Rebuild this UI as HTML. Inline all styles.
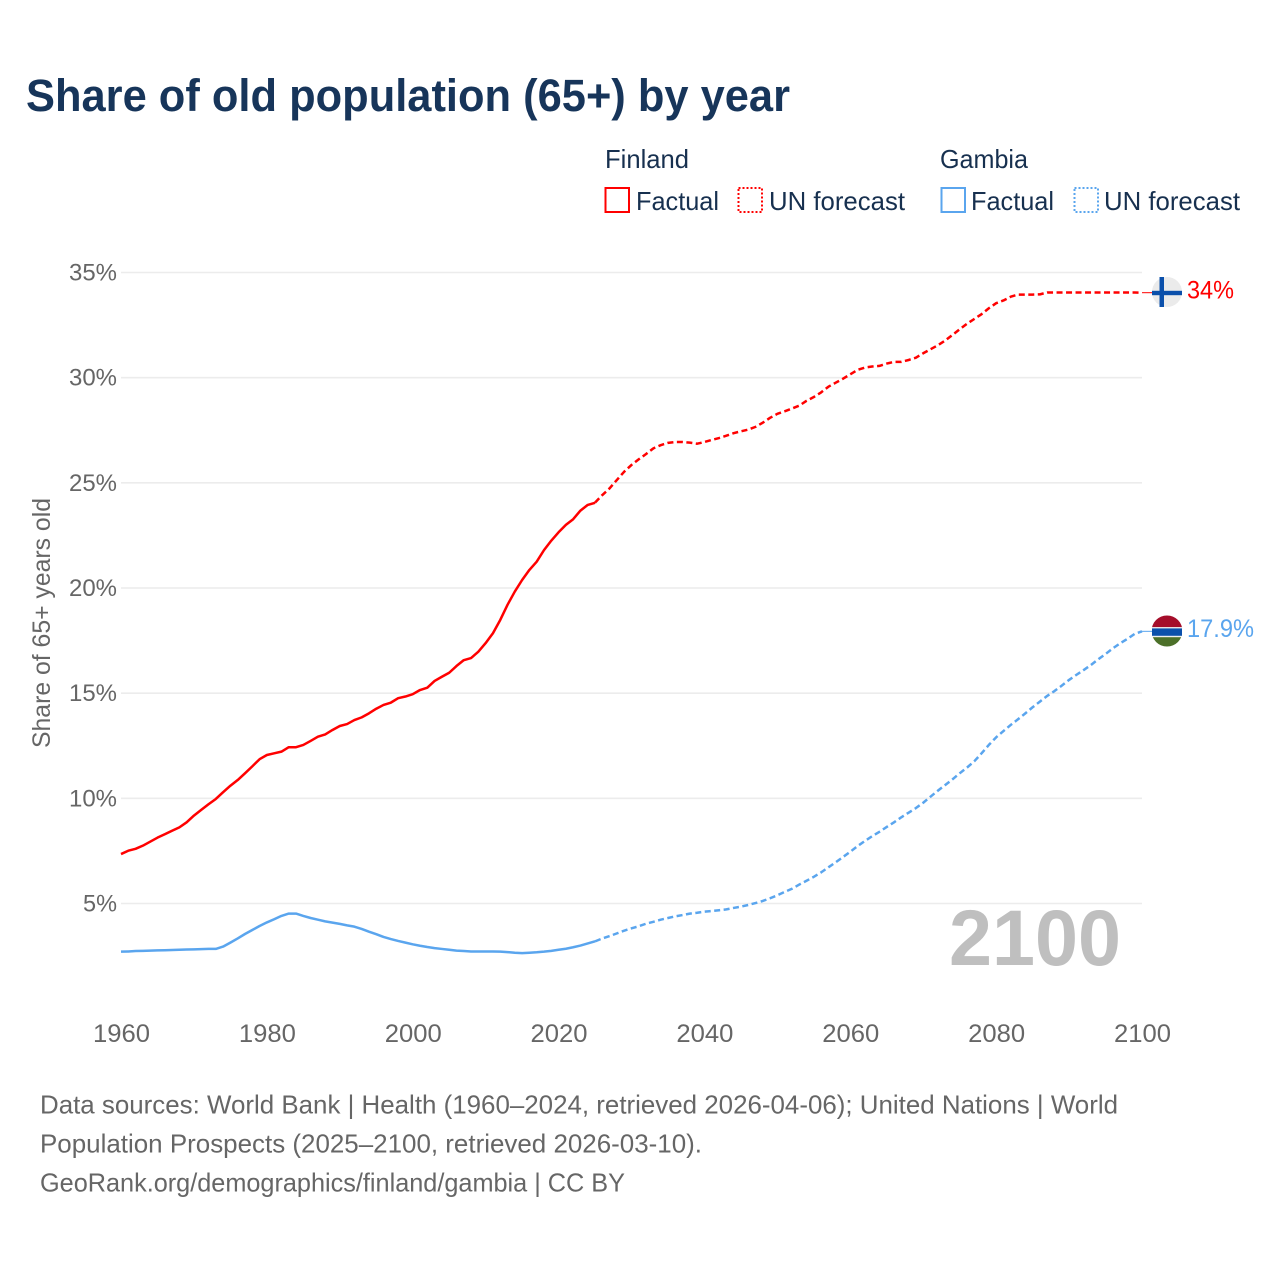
<!DOCTYPE html>
<html lang="en">
<head>
<meta charset="utf-8">
<title>Share of old population (65+) by year</title>
<style>
html,body{margin:0;padding:0;background:#fff;width:1280px;height:1280px;overflow:hidden}
svg{display:block}
text{font-family:"Liberation Sans",sans-serif}
</style>
</head>
<body>
<svg id="chart" width="1280" height="1280" viewBox="0 0 1280 1280" xmlns="http://www.w3.org/2000/svg">
  <rect width="1280" height="1280" fill="#fff"/>
  <text x="26" y="111" font-size="45" font-weight="700" fill="#17355a" textLength="764" lengthAdjust="spacingAndGlyphs">Share of old population (65+) by year</text>

  <g font-size="26" fill="#17304f">
    <text x="605" y="168" textLength="84" lengthAdjust="spacingAndGlyphs">Finland</text>
    <text x="940" y="168" textLength="88" lengthAdjust="spacingAndGlyphs">Gambia</text>
    <rect x="605.5" y="188" width="23.5" height="24" fill="none" stroke="#ff0000" stroke-width="2"/>
    <text x="636" y="210" textLength="83" lengthAdjust="spacingAndGlyphs">Factual</text>
    <rect x="738.5" y="188" width="23.5" height="24" fill="none" stroke="#ff0000" stroke-width="2" stroke-dasharray="2 2"/>
    <text x="769" y="210" textLength="136" lengthAdjust="spacingAndGlyphs">UN forecast</text>
    <rect x="941.5" y="188" width="23.5" height="24" fill="none" stroke="#5aa5ee" stroke-width="2"/>
    <text x="971" y="210" textLength="83" lengthAdjust="spacingAndGlyphs">Factual</text>
    <rect x="1074.5" y="188" width="23.5" height="24" fill="none" stroke="#5aa5ee" stroke-width="2" stroke-dasharray="2 2"/>
    <text x="1104" y="210" textLength="136" lengthAdjust="spacingAndGlyphs">UN forecast</text>
  </g>

  <text transform="translate(50,623) rotate(-90)" text-anchor="middle" font-size="25" fill="#666" textLength="250" lengthAdjust="spacingAndGlyphs">Share of 65+ years old</text>

  <g id="grid"></g>
  <g id="yticks"></g>
  <g id="xticks"></g>

  <text x="949" y="965" font-size="79" font-weight="700" fill="#bfbfbf" textLength="172" lengthAdjust="spacingAndGlyphs">2100</text>

  <g id="series"></g>

  <g>
    <circle cx="1167" cy="292" r="15" fill="#ebebeb"/>
    <rect x="1159.5" y="277" width="4.5" height="30" fill="#0b50ab"/>
    <rect x="1152" y="290.8" width="30" height="4.4" fill="#0b50ab"/>
  </g>
  <text x="1187" y="298.5" font-size="25" fill="#ff0000" textLength="47" lengthAdjust="spacingAndGlyphs">34%</text>

  <g>
    <clipPath id="gambia-clip"><circle cx="1167" cy="631" r="15.5"/></clipPath>
    <g clip-path="url(#gambia-clip)">
      <rect x="1150" y="615" width="34" height="12.2" fill="#a50d2a"/>
      <rect x="1150" y="627.2" width="34" height="1.4" fill="#eee"/>
      <rect x="1150" y="635.8" width="34" height="1.4" fill="#eee"/>
      <rect x="1150" y="637.2" width="34" height="10" fill="#4c7029"/>
    </g>
    <rect x="1152" y="628.4" width="30" height="7.4" fill="#0b50ab"/>
  </g>
  <text x="1187" y="637" font-size="25" fill="#5aa5ee" textLength="67" lengthAdjust="spacingAndGlyphs">17.9%</text>

  <g font-size="26" fill="#666">
    <text x="40" y="1113.5" textLength="1078" lengthAdjust="spacingAndGlyphs">Data sources: World Bank | Health (1960–2024, retrieved 2026-04-06); United Nations | World</text>
    <text x="40" y="1152.5" textLength="662" lengthAdjust="spacingAndGlyphs">Population Prospects (2025–2100, retrieved 2026-03-10).</text>
    <text x="40" y="1191.5" textLength="585" lengthAdjust="spacingAndGlyphs">GeoRank.org/demographics/finland/gambia | CC BY</text>
  </g>
</svg>
<script>
const xTickYears = [1960, 1980, 2000, 2020, 2040, 2060, 2080, 2100];
const yTickValues = [5, 10, 15, 20, 25, 30, 35];
const factualStartYear = 1960;
const forecastStartYear = 2025;
const finlandFactual = [7.35,7.51,7.6,7.75,7.94,8.13,8.29,8.46,8.62,8.86,9.18,9.45,9.72,9.97,10.29,10.6,10.87,11.19,11.52,11.86,12.06,12.14,12.22,12.43,12.43,12.54,12.73,12.93,13.04,13.25,13.44,13.53,13.72,13.85,14.04,14.26,14.44,14.55,14.76,14.84,14.95,15.15,15.26,15.58,15.78,15.97,16.29,16.57,16.67,16.97,17.38,17.85,18.48,19.2,19.83,20.38,20.86,21.25,21.8,22.25,22.65,23.0,23.27,23.68,23.95,24.05];
const gambiaFactual = [2.71,2.72,2.74,2.75,2.76,2.77,2.78,2.79,2.8,2.81,2.82,2.83,2.84,2.84,2.95,3.14,3.34,3.55,3.74,3.93,4.1,4.25,4.41,4.52,4.52,4.41,4.31,4.23,4.15,4.09,4.03,3.96,3.9,3.79,3.66,3.54,3.41,3.31,3.22,3.14,3.06,2.99,2.93,2.88,2.84,2.8,2.76,2.74,2.72,2.72,2.72,2.72,2.71,2.69,2.66,2.64,2.66,2.68,2.71,2.75,2.8,2.85,2.92,3.0,3.1,3.2];
const finlandForecast = [24.06,24.42,24.74,25.14,25.53,25.85,26.12,26.37,26.64,26.79,26.9,26.94,26.94,26.91,26.86,26.94,27.04,27.13,27.24,27.36,27.45,27.53,27.66,27.86,28.09,28.28,28.4,28.53,28.67,28.9,29.08,29.3,29.57,29.76,29.95,30.16,30.37,30.48,30.53,30.56,30.67,30.75,30.75,30.84,30.95,31.16,31.35,31.54,31.76,32.03,32.3,32.56,32.79,33.02,33.3,33.54,33.67,33.85,33.95,33.95,33.95,33.96,34.05,34.05,34.05,34.05,34.05,34.05,34.05,34.05,34.05,34.05,34.05,34.05,34.05,34.04];
const gambiaForecast = [3.2,3.34,3.45,3.58,3.71,3.82,3.92,4.04,4.13,4.23,4.31,4.39,4.45,4.52,4.56,4.61,4.64,4.68,4.72,4.79,4.85,4.93,5.02,5.12,5.25,5.39,5.55,5.7,5.9,6.08,6.27,6.48,6.72,6.96,7.21,7.46,7.73,7.97,8.2,8.41,8.64,8.86,9.1,9.32,9.54,9.79,10.08,10.36,10.63,10.9,11.19,11.46,11.76,12.14,12.54,12.9,13.2,13.49,13.76,14.04,14.33,14.6,14.87,15.1,15.36,15.63,15.87,16.1,16.34,16.61,16.86,17.13,17.37,17.58,17.82,17.94];

const SVG_NS = 'http://www.w3.org/2000/svg';
function xScale(year) { return 121 + (year - 1960) * (1142 - 121) / 140; }
function yScale(value) { return 903.5 - (value - 5) * (903.5 - 272.5) / 30; }
function pathFor(values, startYear) {
  return values.map(function (v, i) {
    return (i ? 'L' : 'M') + xScale(startYear + i).toFixed(2) + ' ' + yScale(v).toFixed(2);
  }).join(' ');
}
function make(tag, parentId) {
  const el = document.createElementNS(SVG_NS, tag);
  document.getElementById(parentId).appendChild(el);
  return el;
}

yTickValues.forEach(function (v) {
  const line = make('line', 'grid');
  
  
  line.setAttribute('x1', xScale(1960));
  line.setAttribute('x2', xScale(2100));
  line.setAttribute('y1', yScale(v));
  line.setAttribute('y2', yScale(v));
  line.setAttribute('stroke', '#ececec');
  line.setAttribute('stroke-width', '1.6');

  const label = make('text', 'yticks');
  
  
  label.setAttribute('x', 117);
  label.setAttribute('y', yScale(v) + 8);
  label.setAttribute('text-anchor', 'end');
  label.setAttribute('font-size', '24.5');
  label.setAttribute('fill', '#666');
  label.setAttribute('textLength', v < 10 ? 34 : 48);
  label.setAttribute('lengthAdjust', 'spacingAndGlyphs');
  label.textContent = v + '%';
});

xTickYears.forEach(function (yr) {
  const label = make('text', 'xticks');
  
  
  label.setAttribute('x', xScale(yr) + 0.5);
  label.setAttribute('y', 1042);
  label.setAttribute('text-anchor', 'middle');
  label.setAttribute('font-size', '25');
  label.setAttribute('fill', '#666');
  label.setAttribute('textLength', 57);
  label.setAttribute('lengthAdjust', 'spacingAndGlyphs');
  label.textContent = yr;
});

const finlandFactualLine = make('path', 'series');


finlandFactualLine.setAttribute('d', pathFor(finlandFactual, factualStartYear));
finlandFactualLine.setAttribute('fill', 'none');
finlandFactualLine.setAttribute('stroke', '#ff0000');
finlandFactualLine.setAttribute('stroke-width', '2.5');
finlandFactualLine.setAttribute('stroke-linejoin', 'round');

const finlandForecastLine = make('path', 'series');


finlandForecastLine.setAttribute('d', pathFor(finlandForecast, forecastStartYear));
finlandForecastLine.setAttribute('fill', 'none');
finlandForecastLine.setAttribute('stroke', '#ff0000');
finlandForecastLine.setAttribute('stroke-width', '2.5');
finlandForecastLine.setAttribute('stroke-dasharray', '6 3.5');
finlandForecastLine.setAttribute('stroke-linejoin', 'round');

const gambiaFactualLine = make('path', 'series');


gambiaFactualLine.setAttribute('d', pathFor(gambiaFactual, factualStartYear));
gambiaFactualLine.setAttribute('fill', 'none');
gambiaFactualLine.setAttribute('stroke', '#5aa5ee');
gambiaFactualLine.setAttribute('stroke-width', '2.5');
gambiaFactualLine.setAttribute('stroke-linejoin', 'round');

const gambiaForecastLine = make('path', 'series');


gambiaForecastLine.setAttribute('d', pathFor(gambiaForecast, forecastStartYear));
gambiaForecastLine.setAttribute('fill', 'none');
gambiaForecastLine.setAttribute('stroke', '#5aa5ee');
gambiaForecastLine.setAttribute('stroke-width', '2.5');
gambiaForecastLine.setAttribute('stroke-dasharray', '6 3.5');
gambiaForecastLine.setAttribute('stroke-linejoin', 'round');

const finlandConnector = make('line', 'series');


finlandConnector.setAttribute('x1', xScale(2100));
finlandConnector.setAttribute('x2', 1152);
finlandConnector.setAttribute('y1', yScale(finlandForecast[finlandForecast.length - 1]));
finlandConnector.setAttribute('y2', yScale(finlandForecast[finlandForecast.length - 1]));
finlandConnector.setAttribute('stroke', '#ff0000');
finlandConnector.setAttribute('stroke-width', '1');

const gambiaConnector = make('line', 'series');


gambiaConnector.setAttribute('x1', xScale(2100));
gambiaConnector.setAttribute('x2', 1152);
gambiaConnector.setAttribute('y1', yScale(gambiaForecast[gambiaForecast.length - 1]));
gambiaConnector.setAttribute('y2', yScale(gambiaForecast[gambiaForecast.length - 1]));
gambiaConnector.setAttribute('stroke', '#5aa5ee');
gambiaConnector.setAttribute('stroke-width', '1');
</script>
</body>
</html>
